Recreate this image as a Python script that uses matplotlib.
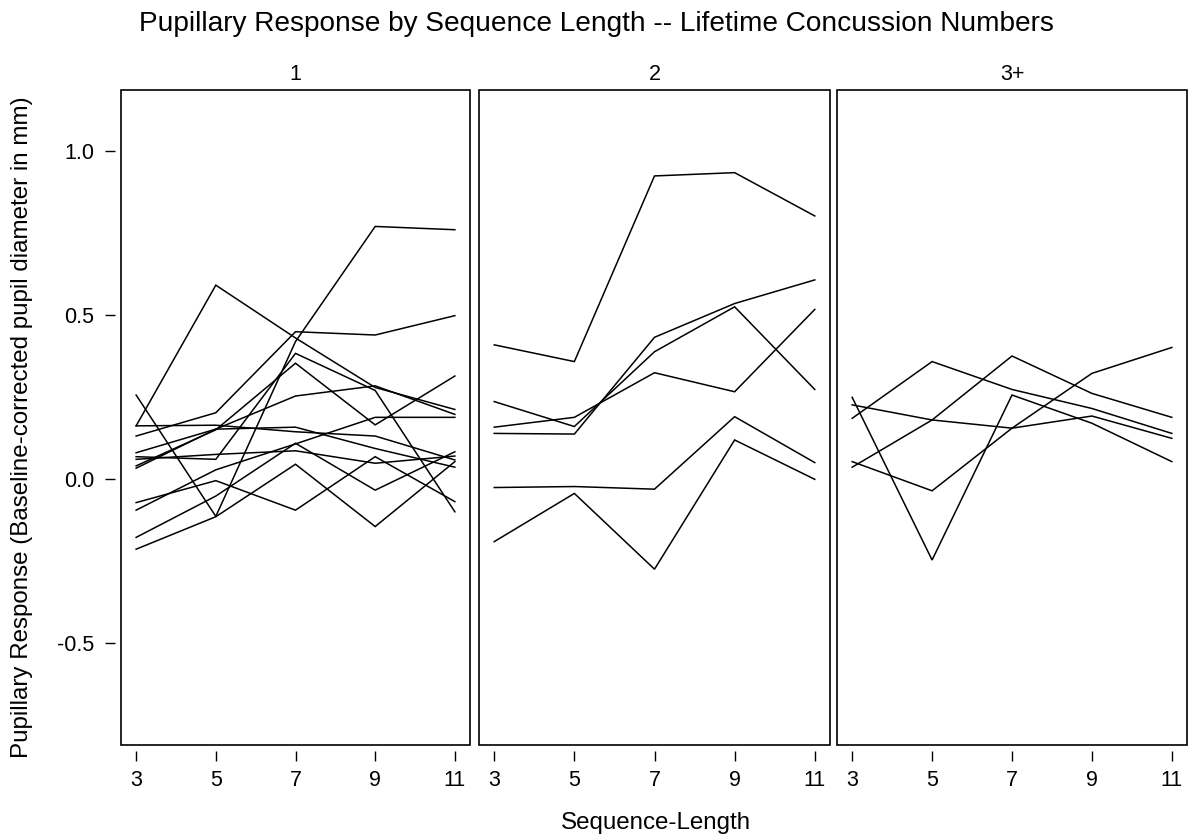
import matplotlib
matplotlib.use("Agg")
import matplotlib.pyplot as plt
from matplotlib.patches import Rectangle

plt.rcParams['font.family'] = ['Liberation Sans', 'DejaVu Sans']

# Sequence lengths on the x axis
seq_len = [3, 5, 7, 9, 11]
x_ticks = [3, 5, 7, 9, 11]
y_ticks = [-0.5, 0.0, 0.5, 1.0]
y_tick_labels = ["-0.5", "0.0", "0.5", "1.0"]

# Lifetime concussion groups (panel titles)
groups = ["1", "2", "3+"]

# Baseline-corrected pupil diameter (mm), one row per participant
group_1 = [
    [0.256, -0.114, 0.419, 0.770, 0.760],
    [0.131, 0.202, 0.449, 0.439, 0.498],
    [0.162, 0.591, 0.430, 0.279, 0.212],
    [0.162, 0.164, 0.144, 0.131, 0.058],
    [0.080, 0.152, 0.253, 0.284, 0.197],
    [0.040, 0.150, 0.353, 0.165, 0.314],
    [0.068, 0.060, 0.383, 0.270, -0.100],
    [-0.095, 0.028, 0.107, 0.188, 0.188],
    [-0.072, -0.005, -0.095, 0.068, -0.069],
    [-0.214, -0.115, 0.045, -0.145, 0.053],
    [-0.178, -0.052, 0.109, -0.034, 0.083],
    [0.060, 0.075, 0.086, 0.048, 0.070],
    [0.033, 0.152, 0.158, 0.093, 0.036],
]
group_2 = [
    [0.409, 0.358, 0.924, 0.934, 0.802],
    [0.236, 0.160, 0.388, 0.525, 0.273],
    [0.158, 0.188, 0.324, 0.266, 0.517],
    [0.139, 0.137, 0.432, 0.535, 0.607],
    [-0.026, -0.023, -0.031, 0.190, 0.050],
    [-0.191, -0.044, -0.275, 0.119, -0.001],
]
group_3 = [
    [0.249, -0.247, 0.256, 0.170, 0.053],
    [0.185, 0.358, 0.273, 0.215, 0.139],
    [0.053, -0.036, 0.155, 0.322, 0.401],
    [0.036, 0.180, 0.375, 0.261, 0.188],
    [0.226, 0.180, 0.155, 0.192, 0.124],
]
group_data = [group_1, group_2, group_3]

W, H = 1193, 836
fig = plt.figure(figsize=(W / 100, H / 100), dpi=100)

panel_edges = [(121, 470), (479, 830), (837, 1187)]
top_px, bottom_px = 90, 745

axes = []
for i, ((l, r), label, rows) in enumerate(zip(panel_edges, groups, group_data)):
    ax = fig.add_axes([l / W, 1 - bottom_px / H, (r - l) / W, (bottom_px - top_px) / H])
    for row in rows:
        ax.plot(seq_len, row, color="black", lw=1.1, solid_joinstyle="miter")
    ax.set_xlim(2.62, 11.38)
    ax.set_ylim(-0.811, 1.186)
    ax.set_xticks(x_ticks)
    ax.set_xticklabels([str(t) for t in x_ticks])
    for side in ["top", "right", "left", "bottom"]:
        ax.spines[side].set_visible(False)
    ax.spines["bottom"].set_position(("outward", 4))
    ax.spines["left"].set_position(("outward", 4))
    ax.tick_params(axis="x", direction="out", length=7, width=1.0,
                   pad=7, labelsize=15.5, color="black")
    if i == 0:
        ax.set_yticks(y_ticks)
        ax.set_yticklabels(y_tick_labels)
        ax.tick_params(axis="y", direction="out", length=7, width=1.0,
                       pad=8, labelsize=15.5)
    else:
        ax.set_yticks([])
    ax.add_patch(Rectangle((0, 0), 1, 1, transform=ax.transAxes, fill=False,
                           lw=1.2, edgecolor="black", clip_on=False, zorder=5))
    ax.text(0.5, 1 + 10 / (bottom_px - top_px), label, transform=ax.transAxes,
            ha="center", va="baseline", fontsize=15.5)
    axes.append(ax)

fig.text(0.5, 1 - 31 / H,
         "Pupillary Response by Sequence Length -- Lifetime Concussion Numbers",
         ha="center", va="baseline", fontsize=20.2)
fig.text(22 / W, 1 - 427 / H,
         "Pupillary Response (Baseline-corrected pupil diameter in mm)",
         rotation=90, ha="center", va="center", fontsize=17.4)
fig.text(656 / W, 1 - 829 / H, "Sequence-Length",
         ha="center", va="baseline", fontsize=17.4)

fig.savefig("out.png", dpi=100)
